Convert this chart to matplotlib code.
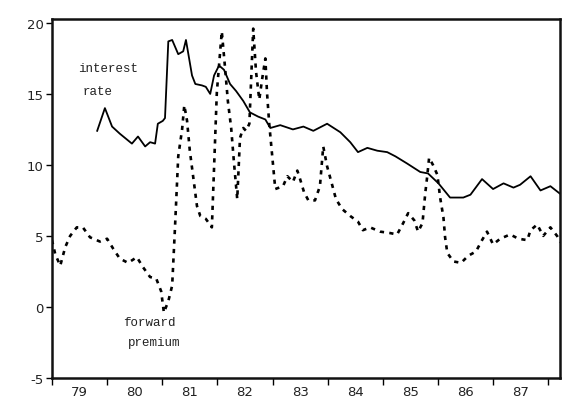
import matplotlib
matplotlib.use("Agg")
import matplotlib.pyplot as plt
import numpy as np

# Interest rate (solid line): decimal year, percent
ir_dates = [1979.82, 1979.96, 1980.09, 1980.23, 1980.45, 1980.56, 1980.69, 1980.78,
            1980.87, 1980.92, 1981.01, 1981.05, 1981.11, 1981.18, 1981.29, 1981.38,
            1981.43, 1981.54, 1981.60, 1981.72, 1981.79, 1981.87, 1981.94, 1982.03,
            1982.12, 1982.23, 1982.34, 1982.47, 1982.59, 1982.74, 1982.87, 1982.96,
            1983.14, 1983.37, 1983.56, 1983.74, 1983.99, 1984.23, 1984.41, 1984.55,
            1984.72, 1984.90, 1985.08, 1985.23, 1985.44, 1985.68, 1985.82, 1986.01,
            1986.22, 1986.46, 1986.59, 1986.80, 1987.00, 1987.19, 1987.37, 1987.49,
            1987.68, 1987.86, 1988.04, 1988.27]
ir_values = [12.4, 14.0, 12.7, 12.2, 11.5, 12.0, 11.3, 11.6,
             11.5, 12.9, 13.1, 13.3, 18.7, 18.8, 17.8, 18.0,
             18.8, 16.3, 15.7, 15.6, 15.5, 15.0, 16.3, 17.0,
             16.7, 15.7, 15.2, 14.5, 13.7, 13.4, 13.2, 12.6,
             12.8, 12.5, 12.7, 12.4, 12.9, 12.3, 11.6, 10.9,
             11.2, 11.0, 10.9, 10.6, 10.1, 9.5, 9.4, 8.7,
             7.7, 7.7, 7.9, 9.0, 8.3, 8.7, 8.4, 8.6,
             9.2, 8.2, 8.5, 7.8]

# Forward premium (dashed line)
fp_dates = [1979.00, 1979.06, 1979.15, 1979.24, 1979.33, 1979.45, 1979.56, 1979.69,
            1979.87, 1980.00, 1980.11, 1980.23, 1980.38, 1980.54, 1980.65, 1980.78,
            1980.89, 1980.98, 1981.03, 1981.11, 1981.18, 1981.23, 1981.29, 1981.36,
            1981.40, 1981.45, 1981.50, 1981.56, 1981.63, 1981.69, 1981.79, 1981.90,
            1981.99, 1982.08, 1982.14, 1982.19, 1982.25, 1982.30, 1982.36, 1982.41,
            1982.47, 1982.52, 1982.58, 1982.65, 1982.70, 1982.76, 1982.81, 1982.87,
            1982.90, 1982.94, 1983.00, 1983.05, 1983.19, 1983.27, 1983.37, 1983.45,
            1983.50, 1983.57, 1983.65, 1983.77, 1983.86, 1983.92, 1983.99, 1984.06,
            1984.15, 1984.26, 1984.41, 1984.55, 1984.64, 1984.77, 1984.95, 1985.13,
            1985.26, 1985.37, 1985.46, 1985.57, 1985.64, 1985.72, 1985.77, 1985.80,
            1985.84, 1985.91, 1985.99, 1986.04, 1986.10, 1986.13, 1986.17, 1986.28,
            1986.42, 1986.55, 1986.69, 1986.80, 1986.89, 1987.00, 1987.13, 1987.31,
            1987.46, 1987.62, 1987.68, 1987.80, 1987.91, 1988.04, 1988.16, 1988.27]
fp_values = [4.7, 3.7, 2.9, 4.2, 5.0, 5.6, 5.6, 4.9,
             4.6, 4.8, 4.1, 3.4, 3.1, 3.5, 2.8, 2.1,
             2.0, 1.1, -0.4, 0.4, 1.5, 5.5, 10.6, 12.5,
             14.2, 13.1, 11.0, 9.2, 7.1, 6.4, 6.2, 5.6,
             15.1, 19.4, 16.8, 14.5, 12.6, 10.2, 7.6, 11.9,
             12.6, 12.4, 12.9, 19.6, 16.6, 14.6, 16.0, 17.5,
             15.1, 12.9, 10.4, 8.3, 8.5, 9.2, 8.8, 9.6,
             9.0, 8.1, 7.5, 7.5, 8.5, 11.3, 9.9, 8.9,
             7.6, 6.9, 6.4, 6.0, 5.4, 5.6, 5.3, 5.2,
             5.1, 5.9, 6.6, 6.1, 5.3, 5.9, 8.0, 9.0,
             10.5, 10.0, 9.3, 7.7, 6.3, 4.9, 3.8, 3.2,
             3.1, 3.6, 3.9, 4.7, 5.3, 4.4, 4.8, 5.1,
             4.8, 4.7, 5.4, 5.8, 5.0, 5.6, 5.0, 4.3]

year_labels = ["79", "80", "81", "82", "83", "84", "85", "86", "87"]
year_starts = list(range(1979, 1989))
y_ticks = [-5, 0, 5, 10, 15, 20]

fig = plt.figure(figsize=(5.68, 4.10), dpi=100)
ax = fig.add_axes([0.0915, 0.076, 0.895, 0.876])

ax.plot(ir_dates, ir_values, color="black", lw=1.3, solid_joinstyle="round")
ax.plot(fp_dates, fp_values, color="black", lw=1.9, linestyle=(0, (1.6, 2.0)))

ax.set_xlim(1979.0, 1988.22)
ax.set_ylim(-5, 20.3)

ax.set_yticks(y_ticks)
ax.set_yticklabels([str(v) for v in y_ticks], fontsize=9.5, color="#222222")
ax.set_xticks(year_starts)
ax.set_xticklabels([])
ax.set_xticks([y + 0.5 for y in year_starts[:-1]], minor=True)
ax.set_xticklabels(year_labels, minor=True, fontsize=9.5, color="#222222")
ax.tick_params(axis="x", which="minor", length=0, pad=5)
ax.tick_params(axis="x", which="major", length=5, width=1.0, direction="out")
ax.tick_params(axis="y", length=4, width=1.0, direction="out", pad=2)

for s in ax.spines.values():
    s.set_linewidth(1.8)
    s.set_color("#111111")

lab = dict(family="Liberation Mono", fontsize=9, color="#222222", va="center")
ax.text(1979.47, 16.8, "interest", **lab)
ax.text(1979.55, 15.2, "rate", **lab)
ax.text(1980.29, -1.06, "forward", **lab)
ax.text(1980.38, -2.46, "premium", **lab)

fig.savefig("out.png", dpi=100, facecolor="white")
